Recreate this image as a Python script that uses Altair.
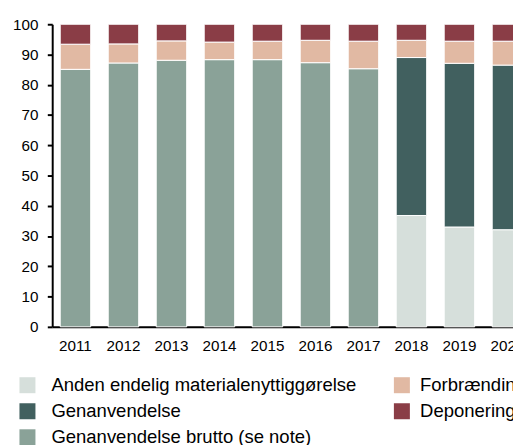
import altair as alt
import pandas as pd

years = ["2011", "2012", "2013", "2014", "2015", "2016", "2017", "2018", "2019", "2020"]
brutto = [85.1, 87.2, 88.1, 88.3, 88.3, 87.3, 85.3, None, None, None]
anden = [None, None, None, None, None, None, None, 36.8, 33.0, 32.1]
genanv = [None, None, None, None, None, None, None, 52.2, 54.1, 54.4]
forbr = [8.3, 6.3, 6.4, 5.8, 6.1, 7.4, 9.1, 5.7, 7.3, 7.9]
depon = [6.6, 6.5, 5.5, 5.9, 5.6, 5.3, 5.6, 5.3, 5.6, 5.6]

names = {
    "anden": "Anden endelig materialenyttiggørelse",
    "genanv": "Genanvendelse",
    "brutto": "Genanvendelse brutto (se note)",
    "forbr": "Forbrænding",
    "depon": "Deponering",
}
# (key, values, stack order, legend group)
series = [("brutto", brutto, 0, "A"), ("anden", anden, 0, "A"), ("genanv", genanv, 1, "A"),
          ("forbr", forbr, 2, "B"), ("depon", depon, 3, "B")]

rows = []
for key, vals, order, grp in series:
    for y, v in zip(years, vals):
        if v is not None:
            rows.append({"year": y, "cat": names[key], "value": v, "ord": order, "grp": grp})
df = pd.DataFrame(rows)

dom_a = [names["anden"], names["genanv"], names["brutto"]]
col_a = ["#d6dfdb", "#41605f", "#8aa298"]
dom_b = [names["forbr"], names["depon"]]
col_b = ["#e1b9a3", "#8a3d46"]

FONT = "Liberation Sans"

x_enc = alt.X("year:N", title=None,
              scale=alt.Scale(paddingInner=0.365, paddingOuter=0.167, range=[0, 487]),
              axis=alt.Axis(labelAngle=0, ticks=False, labelPadding=12, labelFontSize=15.5,
                            labelColor="#000", domainColor="#000", domainWidth=2,
                            labelFont=FONT))
y_enc = alt.Y("y0:Q", title=None,
              scale=alt.Scale(domain=[0, 100], nice=False),
              axis=alt.Axis(values=list(range(0, 101, 10)), grid=False, tickSize=5,
                            tickColor="#000", tickWidth=2, domainColor="#000", domainWidth=2,
                            labelFontSize=15.5, labelColor="#000", labelPadding=9.5,
                            labelFont=FONT))

def leg(x, y, offset):
    return alt.Legend(title=None, orient="none", legendX=x, legendY=y, padding=0,
                      direction="vertical", symbolType="square", symbolSize=265,
                      symbolStrokeWidth=0, labelFontSize=18.8, labelFont=FONT,
                      labelColor="#000", labelLimit=400, labelOffset=offset,
                      rowPadding=6.5)

base = alt.Chart(df).transform_stack(
    stack="value", groupby=["year"], as_=["y0", "y1"],
    sort=[alt.SortField("ord", order="ascending")],
)

layer_a = base.transform_filter(alt.datum.grp == "A").mark_bar(
    stroke="white", strokeWidth=1).encode(
    x=x_enc, y=y_enc, y2="y1:Q",
    color=alt.Color("cat:N", scale=alt.Scale(domain=dom_a, range=col_a),
                    legend=leg(-34.6, 358.0, 15.0)),
)
layer_b = base.transform_filter(alt.datum.grp == "B").mark_bar(
    stroke="white", strokeWidth=1).encode(
    x=x_enc, y=y_enc, y2="y1:Q",
    fill=alt.Fill("cat:N", scale=alt.Scale(domain=dom_b, range=col_b),
                  legend=leg(346.5, 358.0, 9.1)),
)

chart = alt.layer(layer_a, layer_b).properties(
    width=469, height=308,
    autosize=alt.AutoSizeParams(type="none"),
    padding={"left": 45, "top": 12.65, "right": 0, "bottom": 116},
).configure_view(stroke=None)

chart.save("out.html", embed_options={"renderer": "svg", "actions": False})
